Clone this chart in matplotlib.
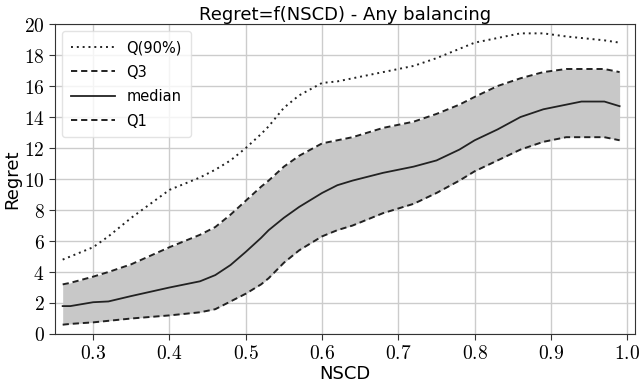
import matplotlib
matplotlib.use("Agg")
import matplotlib.pyplot as plt
from matplotlib.ticker import FuncFormatter

plt.rcParams["mathtext.fontset"] = "cm"

# values
NSCD = [0.26, 0.27, 0.30, 0.32, 0.35, 0.40, 0.44, 0.46, 0.48, 0.50,
        0.52, 0.53, 0.55, 0.57, 0.60, 0.62, 0.64, 0.68, 0.72, 0.75,
        0.78, 0.80, 0.83, 0.86, 0.89, 0.92, 0.94, 0.97, 0.99]
Q90 = [4.8, 5.0, 5.6, 6.3, 7.5, 9.3, 10.1, 10.6, 11.2, 12.0,
       12.9, 13.4, 14.6, 15.4, 16.2, 16.3, 16.5, 16.9, 17.3, 17.8,
       18.4, 18.8, 19.1, 19.4, 19.4, 19.2, 19.1, 18.95, 18.8]
Q3 = [3.2, 3.3, 3.7, 4.0, 4.5, 5.6, 6.4, 6.9, 7.7, 8.6,
      9.5, 9.9, 10.8, 11.5, 12.3, 12.5, 12.7, 13.3, 13.7, 14.2,
      14.8, 15.3, 16.0, 16.5, 16.9, 17.1, 17.1, 17.1, 16.9]
MEDIAN = [1.8, 1.8, 2.05, 2.1, 2.45, 3.0, 3.4, 3.8, 4.45, 5.3,
          6.2, 6.7, 7.5, 8.2, 9.1, 9.6, 9.9, 10.4, 10.8, 11.2,
          11.9, 12.5, 13.2, 14.0, 14.5, 14.8, 15.0, 15.0, 14.7]
Q1 = [0.6, 0.65, 0.75, 0.85, 1.0, 1.2, 1.4, 1.6, 2.1, 2.6,
      3.2, 3.6, 4.6, 5.4, 6.3, 6.7, 7.0, 7.8, 8.4, 9.1,
      9.9, 10.5, 11.2, 11.9, 12.4, 12.7, 12.7, 12.7, 12.5]

XTICKS = [0.3, 0.4, 0.5, 0.6, 0.7, 0.8, 0.9, 1.0]
YTICKS = [0, 2, 4, 6, 8, 10, 12, 14, 16, 18, 20]

fig = plt.figure(figsize=(6.4, 3.85), dpi=100)
ax = fig.add_axes([0.086, 0.1325, 0.906, 0.805])

dotted = (0, (1, 2))
dashed = (0, (3.2, 2))
ax.fill_between(NSCD, Q1, Q3, color="#c8c8c8", lw=0)
ax.plot(NSCD, Q90, color="#222222", ls=dotted, lw=1.4, label="Q(90%)")
ax.plot(NSCD, Q3, color="#222222", ls=dashed, lw=1.4, label="Q3")
ax.plot(NSCD, MEDIAN, color="#222222", ls="-", lw=1.3, label="median")
ax.plot(NSCD, Q1, color="#222222", ls=dashed, lw=1.4, label="Q1")

ax.set_xlim(0.25, 1.01)
ax.set_ylim(0, 20)
ax.set_xticks(XTICKS)
ax.set_yticks(YTICKS)
ax.xaxis.set_major_formatter(FuncFormatter(lambda v, p: f"${v:.1f}$"))
ax.yaxis.set_major_formatter(FuncFormatter(lambda v, p: f"${v:.0f}$"))
ax.tick_params(labelsize=14, length=4, color="#333333")
ax.grid(True, color="#cccccc", lw=1)
ax.set_axisbelow(True)
for s in ax.spines.values():
    s.set_color("#333333")

ax.set_xlabel("NSCD", fontsize=13, labelpad=1)
ax.set_ylabel("Regret", fontsize=13, labelpad=2)
ax.set_title("Regret=f(NSCD) - Any balancing", fontsize=13, pad=3)
ax.legend(loc="upper left", fontsize=10.5, handlelength=3, framealpha=0.8,
          edgecolor="#dddddd", borderpad=0.6, labelspacing=0.65)

fig.savefig("out.png", dpi=100)
